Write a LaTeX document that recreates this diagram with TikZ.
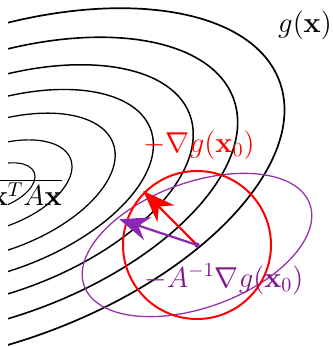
\documentclass[tikz,border=0pt]{standalone}
\usetikzlibrary{arrows.meta}
\definecolor{gradred}{RGB}{255,0,0}
\definecolor{newtonpurple}{RGB}{138,40,180}
\definecolor{ellpurple}{RGB}{150,50,170}
\definecolor{labpurple}{RGB}{128,20,140}
\begin{document}
\begin{tikzpicture}[x=0.5pt,y=0.5pt,
  contour/.style={draw=black},
  gradarrow/.style={draw=gradred, line width=1.1pt, -{Stealth[length=16pt,width=12pt,inset=5pt]}},
  newtonarrow/.style={draw=newtonpurple, line width=1.1pt, -{Stealth[length=15pt,width=12pt,inset=5pt]}},
  lab/.style={font=\Large, inner sep=0pt}]
\useasboundingbox (0,0) rectangle (332,-347);
\coordinate (c) at (-4,-187);
\coordinate (x0) at (197,-245);
\coordinate (gtip) at (143.3,-191);
\coordinate (ntip) at (119.3,-219.3);
\begin{scope}
  \clip (8,0) rectangle (332,-347);
  \foreach \a/\b/\w in {20.47/10.40/0.55, 39.87/20.26/0.6, 62.50/31.76/0.65, 82.54/41.94/0.7, 103.44/52.56/0.75, 126.71/64.39/0.8, 151.28/76.87/0.85}
    \draw[contour, line width=\w pt] (c) ellipse [x radius=\a pt, y radius=\b pt, rotate=20.5];
\end{scope}
\draw[ellpurple, line width=0.65pt] (x0) ellipse [x radius=60pt, y radius=31.25pt, rotate=20];
\draw[gradred, line width=1pt] (x0) circle [radius=37pt];
\draw[gradarrow] (x0) -- (gtip);
\draw[newtonarrow] (x0) -- (ntip);
\fill[newtonpurple] (x0) circle [radius=1.3pt];
\node[lab, text=gradred] (glab) at (199,-145) {$-\nabla g(\mathbf{x}_0)$};
\node[lab, text=labpurple] (nlab) at (224,-279) {$-A^{-1}\nabla g(\mathbf{x}_0)$};
\node[lab] (gx) at (305,-25) {$g(\mathbf{x})$};
\node[lab, anchor=base east] (quad) at (62,-205) {$\overline{\mathbf{x}^TA\mathbf{x}}$};
\end{tikzpicture}
\end{document}
